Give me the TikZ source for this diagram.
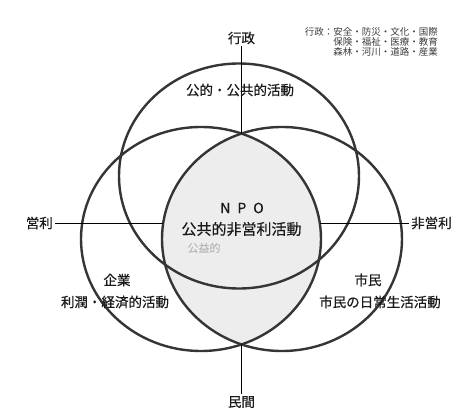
\documentclass[tikz,border=0pt]{standalone}
\usepackage{fontspec}
\newfontfamily\jp{Noto Sans CJK JP}[FakeBold=0.5]
\newfontfamily\jpthin{Noto Sans CJK JP}
\definecolor{ringcol}{HTML}{353535}
\definecolor{txt}{HTML}{1A1A1A}
\definecolor{lens}{HTML}{EDEDED}
\definecolor{pencil}{HTML}{A8A8A8}
\definecolor{notecol}{HTML}{3C3C3C}
\begin{document}
\begin{tikzpicture}[x=1pt,y=-1pt,
  ring/.style={draw=ringcol, line width=2.4pt},
  lbl/.style={font=\jp\fontsize{13.5}{15}\selectfont, text=txt, inner sep=2pt},
  conn/.style={draw=black, line width=0.9pt}]
\useasboundingbox (0,0) rectangle (451,412);
\fill[white] (0,0) rectangle (451,412);
% shaded lens (left and right rings)
\begin{scope}
  \clip (201,239) ellipse [x radius=120pt, y radius=112pt];
  \fill[lens] (282,239) ellipse [x radius=120pt, y radius=112pt];
\end{scope}
% rings
\draw[ring] (239,176) ellipse [x radius=120pt, y radius=112.5pt];
\draw[ring] (201,239) ellipse [x radius=120pt, y radius=112pt];
\draw[ring] (282,239) ellipse [x radius=120pt, y radius=112pt];
% connector end points on the rings
\coordinate (topX) at (241.5,133.6);
\coordinate (botX) at (241.5,344.4);
\coordinate (leftX) at (163.2,223);
\coordinate (rightX) at (319.8,223);
% axis labels
\node[lbl] (gyosei) at (241.5,38) {行政};
\node[lbl] (minkan) at (241.5,402) {民間};
\node[lbl, anchor=east] (eiri) at (55,223) {営利};
\node[lbl, anchor=west] (hieiri) at (409,223) {非営利};
\draw[conn] (gyosei.south) -- (topX);
\draw[conn] (minkan.north) -- (botX);
\draw[conn] (eiri.east) -- (leftX);
\draw[conn] (hieiri.west) -- (rightX);
% region labels
\node[lbl] (pub) at (240,90) {公的・公共的活動};
\node[lbl] (kigyo) at (117,280) {企業};
\node[lbl] (kigyoact) at (115,302) {利潤・経済的活動};
\node[lbl] (shimin) at (368,280) {市民};
\node[lbl] (shiminact) at (380,302) {市民の日常生活活動};
\node[lbl, font=\jp\fontsize{14}{15}\selectfont] (npo) at (242,208) {N\hspace{7pt}P\hspace{7pt}O};
\node[lbl, font=\jp\fontsize{15}{16}\selectfont] (npoact) at (241.5,229) {公共的非営利活動};
\node[lbl, font=\jpthin\fontsize{11}{12}\selectfont, text=pencil] (koeki) at (204,248) {公益的};
% note top right
\node[lbl, anchor=east, align=right, font=\jpthin\fontsize{9.5}{10}\selectfont, text=notecol] (note) at (440,42)
  {行政：安全・防災・文化・国際\\保険・福祉・医療・教育\\森林・河川・道路・産業};
\end{tikzpicture}
\end{document}
